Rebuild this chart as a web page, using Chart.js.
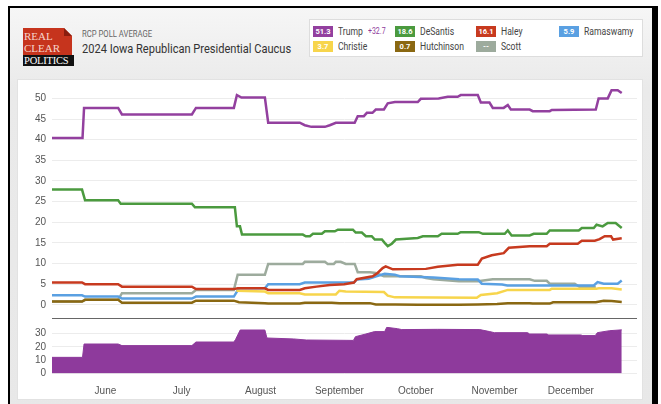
<!DOCTYPE html>
<html>
<head>
<meta charset="utf-8">
<script src="https://cdn.jsdelivr.net/npm/chart.js@4.4.1/dist/chart.umd.min.js"></script>
<style>
  html, body { margin: 0; padding: 0; background: #fff; }
  body { width: 661px; height: 404px; position: relative; overflow: hidden; font-family: Roboto, 'Liberation Sans', sans-serif; }
  #frame { position: absolute; left: 8px; top: 6px; width: 642px; height: 420px;
    border-top: 2px solid #000; border-left: 2px solid #000; border-right: 6px solid #000;
    background: linear-gradient(#f6f6f6, #eaeaea 80px, #e8e8e8); }
  #logoRed { position: absolute; left: 23px; top: 28px; width: 49px; height: 27px; background: #c6341d; }
  #logoFold { position: absolute; left: 64px; top: 28px; width: 8px; height: 8px; background: #8a1d0e;
    clip-path: polygon(0 0, 100% 100%, 0 100%); }
  #logoCut { position: absolute; left: 64px; top: 28px; width: 8px; height: 8px; background: #f4f4f4;
    clip-path: polygon(0 0, 100% 0, 100% 100%); }
  #logoBlack { position: absolute; left: 23px; top: 55px; width: 51px; height: 11px; background: #111; }
  .logoTxt { position: absolute; font-family: 'Liberation Serif', 'DejaVu Serif', serif; line-height: 1; white-space: nowrap; }
  .cond { transform: scaleX(0.82); transform-origin: 0 50%; white-space: nowrap; }
  #sub { position: absolute; left: 82px; top: 28px; font-size: 9.4px; color: #666; }
  #title { position: absolute; left: 82px; top: 40px; font-size: 13.5px; color: #333; }
  #legend { position: absolute; left: 309px; top: 19px; width: 332px; height: 36px; background: #fff; border: 1px solid #ddd; }
  .lgBox { position: absolute; width: 20px; height: 11px; color: #fff; font-size: 7.5px; font-weight: bold; text-align: center; line-height: 11px; }
  .lgName { position: absolute; font-size: 10.5px; color: #444; line-height: 11px; }
  .lgLead { position: absolute; font-size: 8.5px; color: #8e3a9c; line-height: 11px; }
  #panel { position: absolute; left: 17px; top: 79px; width: 624px; height: 319px; background: #fff; border: 1px solid #e2e2e2; }
  #mainChart { position: absolute; left: 17px; top: 80px; }
  #leadChart { position: absolute; left: 17px; top: 320px; }
</style>
</head>
<body>
<div id="frame"></div>
<div id="logoRed"></div>
<div id="logoCut"></div>
<div id="logoFold"></div>
<div id="logoBlack"></div>
<div class="logoTxt" style="left:24px;top:31px;font-size:11px;color:#f6d5cc;">REAL</div>
<div class="logoTxt" style="left:24px;top:43px;font-size:11px;color:#f6d5cc;">CLEAR</div>
<div class="logoTxt" style="left:24px;top:55.5px;font-size:10.5px;color:#fff;letter-spacing:-0.2px;">POLITICS</div>
<div id="sub" class="cond">RCP POLL AVERAGE</div>
<div id="title" class="cond">2024 Iowa Republican Presidential Caucus</div>
<div id="legend"></div>
<div id="panel"></div>
<canvas id="mainChart" width="620" height="240"></canvas>
<canvas id="leadChart" width="620" height="79"></canvas>
<script>
// ======== Data ========
// x = days since May 11, 2023
const names = ['Trump', 'DeSantis', 'Haley', 'Ramaswamy', 'Christie', 'Hutchinson', 'Scott'];
const colors = ['#93409f', '#4b9a3f', '#c73a1f', '#5aa0e2', '#f7d54c', '#8a6812', '#9dab9d'];
const latest = ['51.3', '18.6', '16.1', '5.9', '3.7', '0.7', '--'];
const trumpLead = '+32.7';

const trump = [[0,40.4],[12,40.4],[12.6,47.7],[26,47.7],[27.5,46.1],[55,46.1],[56.6,47.7],[71.5,47.7],[72.7,50.8],[74.5,50.2],[83.7,50.2],[85,44.1],[97.4,44.1],[99.4,43.5],[102,43.1],[107.3,43.1],[109.2,43.5],[111.6,44.1],[119,44.1],[120.2,45.7],[122.6,45.7],[123.8,46.5],[126,46.5],[127.3,47.3],[130.5,47.3],[132,48.8],[134.8,49.1],[143.8,49.1],[145,49.9],[152,50.0],[155.6,50.4],[159.5,50.4],[160.7,50.8],[167.4,50.8],[168.6,49.0],[172,49.0],[173.3,47.7],[177.6,47.7],[179.2,48.4],[180.4,47.3],[187.8,47.3],[189,46.9],[195.7,46.9],[196.5,47.2],[213.8,47.3],[214.9,50.0],[218.5,50.0],[220,52.0],[222.4,52.0],[224,51.3]];
const desantis = [[0,27.9],[11.8,27.9],[13,25.3],[26,25.3],[27,24.5],[55,24.5],[56.2,23.6],[71.9,23.6],[72.7,19.0],[73.9,19.0],[74.7,17.0],[98.6,17.0],[99.8,16.6],[101.4,16.6],[102.6,17.2],[106.1,17.2],[107.3,17.8],[111.2,17.8],[112.4,18.2],[118.3,18.2],[119.4,17.5],[121.8,17.5],[123.4,16.6],[125.7,16.6],[126.9,15.8],[129.7,15.8],[130.8,15.0],[132,14.2],[133.6,14.8],[135.2,15.8],[143.8,16.2],[145.8,16.6],[151.7,16.6],[153.2,17.2],[159.5,17.2],[160.7,17.6],[167.8,17.6],[169.4,17.2],[178,17.2],[179.2,18.0],[180.7,16.8],[187.8,16.8],[189.4,17.2],[194.5,17.2],[195.7,18.0],[207.1,18.0],[208.3,18.6],[213,18.6],[214.1,19.4],[216.5,19.0],[218.5,19.8],[221.6,19.8],[224,18.6]];
const haley = [[0,5.4],[11.8,5.4],[13,5.0],[26,5.0],[27.5,4.4],[55,4.4],[56.6,3.8],[71.5,3.8],[73,4.0],[83.7,4.0],[85,3.6],[97.4,3.6],[99.4,4.0],[104,4.4],[109.2,4.8],[114.9,5.0],[118.7,5.4],[119.8,6.2],[126.1,6.9],[128,7.7],[130,8.9],[131.2,9.3],[134,8.6],[147,8.7],[151.7,9.2],[159.5,9.7],[167.4,9.7],[169,11.2],[172.9,12.0],[177.6,12.5],[179.6,13.8],[187.8,14.2],[194.5,14.2],[195.7,14.8],[206.7,14.8],[208.3,15.5],[213.4,15.5],[215.3,15.9],[217.3,16.6],[219.8,16.6],[220.6,15.8],[224,16.1]];
const ramaswamy = [[0,2.3],[11.8,2.3],[13,2.0],[26,2.0],[27.5,1.5],[55,1.5],[56.6,2.0],[71.5,2.0],[73.5,4.0],[83.7,4.0],[85,5.0],[97.4,5.0],[99.4,5.4],[118.7,5.4],[119.8,6.1],[124.5,6.3],[127.5,6.9],[130.8,7.5],[134.8,7.3],[136.7,6.9],[150,6.6],[160,6.2],[167.4,6.1],[169,5.1],[177,4.9],[179,4.7],[213,4.7],[214.5,5.5],[216.9,5.1],[222.4,5.1],[224,5.9]];
const christie = [[72.5,3.4],[83.7,3.2],[85,2.8],[97.4,2.8],[99.4,2.5],[111.6,2.5],[113,3.4],[115.5,3.2],[130.5,3.1],[132,2.2],[134.8,1.8],[167,1.7],[168.6,2.4],[175,2.8],[179.2,3.6],[195.7,3.6],[196.5,3.9],[214,3.9],[215,4.0],[220,4.0],[224,3.7]];
const hutchinson = [[0,0.8],[11.8,0.8],[13,1.2],[26,1.2],[27.5,0.5],[55,0.5],[56.6,1.0],[71.5,1.0],[73.5,0.6],[83.7,0.4],[85,0.3],[97.4,0.3],[99.4,0.5],[110,0.5],[113,0.4],[125,0.4],[127.3,0.1],[135,0.1],[143.8,0.0],[160,0.0],[167.4,0.1],[175,0.2],[179.2,0.4],[187.8,0.4],[189,0.3],[195.7,0.3],[197,0.6],[213.8,0.6],[216.9,1.0],[220,0.9],[224,0.7]];
const scott = [[0,0.8],[11.8,0.8],[13,1.2],[26,1.2],[27.5,2.8],[55,2.8],[56.6,3.6],[71.5,3.6],[73,7.3],[83.7,7.3],[85,9.9],[98.6,9.9],[99.4,10.4],[107.3,10.4],[108.4,9.9],[110.8,9.9],[111.6,10.4],[113.5,10.4],[115.5,9.9],[119,9.9],[120.2,7.9],[125,7.9],[127.3,7.7],[130.5,6.9],[145,6.9],[147,6.5],[150,6.2],[160,5.7],[167.4,5.7],[173.3,6.2],[187.8,6.2],[189.8,5.8],[194.5,5.8],[195.7,5.1],[205.5,5.1],[207.5,4.3],[213.8,4.3]];
const lead = [[0,12.1],[12,12.1],[12.6,22.1],[26,22.1],[27.5,20.9],[55,20.9],[56.6,23.6],[71.5,23.6],[72.2,25.6],[74,32.6],[83.7,32.6],[84.5,26.6],[95,25.9],[100,25.1],[118.5,24.8],[119.3,27.6],[123.4,29.6],[126.8,31.4],[130.8,31.4],[131.6,34.6],[135.8,33.6],[137.5,32.9],[151.6,33.1],[168.2,32.9],[172.1,31.4],[173.9,30.6],[187,30.6],[187.8,29.6],[194.5,29.6],[195.3,28.9],[207.9,28.9],[208.7,28.4],[213.6,28.4],[214.4,30.6],[219.3,32.1],[224,32.7]];

const seriesData = [trump, desantis, haley, ramaswamy, christie, hutchinson, scott];
const drawOrder = [0, 1, 2, 4, 3, 5, 6];

const mainTicks = [0, 5, 10, 15, 20, 25, 30, 35, 40, 45, 50];
const leadTicks = [0, 10, 20, 30];
const monthTicks = [21, 51, 82, 113, 143, 174, 204];
const monthLabels = ['June', 'July', 'August', 'September', 'October', 'November', 'December'];

// ======== Legend ========
const legendEl = document.getElementById('legend');
const legendPos = [[3, 6], [85, 6], [166, 6], [249, 6], [3, 21], [85, 21], [166, 21]];
names.forEach((n, i) => {
  const [lx, ly] = legendPos[i];
  const box = document.createElement('div');
  box.className = 'lgBox';
  box.style.left = lx + 'px';
  box.style.top = ly + 'px';
  box.style.background = colors[i];
  box.textContent = latest[i];
  legendEl.appendChild(box);
  const nm = document.createElement('div');
  nm.className = 'lgName cond';
  nm.style.left = (lx + 25) + 'px';
  nm.style.top = ly + 'px';
  nm.textContent = n;
  legendEl.appendChild(nm);
});
const leadEl = document.createElement('div');
leadEl.className = 'lgLead cond';
leadEl.style.left = '58px';
leadEl.style.top = '6px';
leadEl.textContent = trumpLead;
legendEl.appendChild(leadEl);

// ======== Charts ========
const tickFont = { family: "'Liberation Sans', Arial, sans-serif", size: 10 };
const toXY = arr => arr.map(p => ({ x: p[0], y: p[1] }));

// fixed axis sizes so both charts line up
function fixY(s) {
  s.width = 35;
  s.paddingTop = 0;
  s.paddingBottom = 0;
}
function fixX(h) {
  return s => {
    s.height = h;
    s.paddingLeft = 0;
    s.paddingRight = 0;
  };
}

new Chart(document.getElementById('mainChart'), {
  type: 'line',
  data: {
    datasets: drawOrder.map(i => ({
      label: names[i],
      data: toXY(seriesData[i]),
      borderColor: colors[i],
      borderWidth: 2.5,
      pointRadius: 0,
      tension: 0,
      fill: false
    }))
  },
  options: {
    responsive: false,
    animation: false,
    layout: { padding: { top: 6, bottom: 2, left: 0, right: 0 } },
    plugins: { legend: { display: false }, tooltip: { enabled: false } },
    scales: {
      x: {
        type: 'linear', min: 0, max: 230,
        afterFit: fixX(0),
        ticks: { display: false },
        grid: { display: false, drawTicks: false },
        border: { display: true, color: '#666', width: 1 }
      },
      y: {
        min: -3.2, max: 53,
        afterBuildTicks: s => { s.ticks = mainTicks.map(v => ({ value: v })); },
        afterFit: fixY,
        ticks: { color: '#555', font: tickFont, padding: 6, autoSkip: false },
        grid: { color: '#ececec', drawTicks: false },
        border: { display: false }
      }
    }
  }
});

new Chart(document.getElementById('leadChart'), {
  type: 'line',
  data: {
    datasets: [{
      label: 'Trump lead',
      data: toXY(lead),
      borderColor: '#8e3a9c',
      backgroundColor: '#8e3a9c',
      borderWidth: 1,
      pointRadius: 0,
      tension: 0,
      fill: 'origin'
    }]
  },
  options: {
    responsive: false,
    animation: false,
    layout: { padding: { top: 6.8, bottom: 0, left: 0, right: 0 } },
    plugins: { legend: { display: false }, tooltip: { enabled: false } },
    scales: {
      x: {
        type: 'linear', min: 0, max: 230,
        afterBuildTicks: s => { s.ticks = monthTicks.map(v => ({ value: v })); },
        afterFit: fixX(25.5),
        ticks: {
          color: '#555', font: tickFont, padding: 11.5, maxRotation: 0, autoSkip: false,
          callback: v => monthLabels[monthTicks.indexOf(v)]
        },
        grid: { display: false, drawTicks: false },
        border: { display: false }
      },
      y: {
        min: 0, max: 35,
        afterBuildTicks: s => { s.ticks = leadTicks.map(v => ({ value: v })); },
        afterFit: fixY,
        ticks: { color: '#555', font: tickFont, padding: 6, autoSkip: false },
        grid: { color: '#ececec', drawTicks: false },
        border: { display: false }
      }
    }
  }
});
</script>
</body>
</html>
